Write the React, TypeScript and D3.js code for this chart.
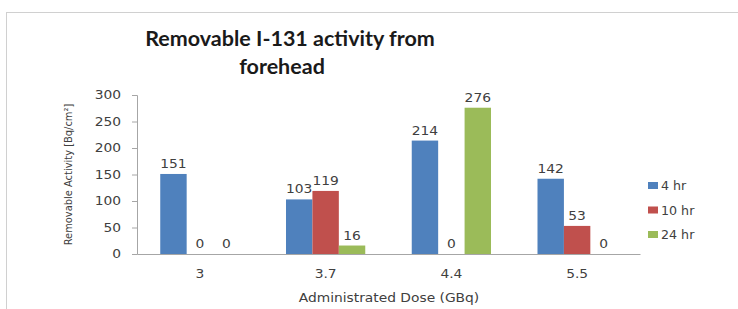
import React, { useEffect, useRef } from 'react'
import * as d3 from 'd3'

const doses = ['3', '3.7', '4.4', '5.5']
const seriesNames = ['4 hr', '10 hr', '24 hr']
const hr4 = [151, 103, 214, 142]
const hr10 = [0, 119, 0, 53]
const hr24 = [0, 16, 276, 0]
const yTicks = [0, 50, 100, 150, 200, 250, 300]
const colors = ['#4F81BD', '#C0504D', '#9BBB59']

// the source picture has its small text stretched sideways
const widen = (sel: any, k: number) => {
  sel.each(function (this: SVGTextElement) {
    const len = this.getComputedTextLength()
    this.setAttribute('textLength', String(len * k))
    this.setAttribute('lengthAdjust', 'spacingAndGlyphs')
  })
}

export default function App() {
  const ref = useRef<SVGSVGElement>(null)

  useEffect(() => {
    const width = 738
    const height = 309
    const margin = { top: 95, right: 98, bottom: 55, left: 137 }

    const svg = d3.select(ref.current)
    svg.selectAll('*').remove()

    // chart frame
    svg.append('rect')
      .attr('x', 6.5).attr('y', 12.5)
      .attr('width', 760).attr('height', 330)
      .attr('fill', '#fff')
      .attr('stroke', '#d0d0d0')

    const title = svg.append('text')
      .attr('text-anchor', 'middle')
      .attr('font-family', 'Lato, sans-serif')
      .attr('font-weight', 'bold')
      .attr('font-size', 21.5)
      .attr('fill', '#1a1a1a')
    title.append('tspan').attr('x', 290).attr('y', 46).text('Removable I-131 activity from')
    title.append('tspan').attr('x', 282).attr('y', 74).text('forehead')

    const x0 = d3.scaleBand()
      .domain(doses)
      .range([margin.left, width - margin.right])
    const x1 = d3.scaleBand()
      .domain(seriesNames)
      .range([0, x0.bandwidth()])
      .paddingInner(0)
      .paddingOuter(0.88)
    const y = d3.scaleLinear()
      .domain([0, 300])
      .range([height - margin.bottom, margin.top])

    const rows = doses.map((d, i) => ({
      dose: d,
      values: [hr4[i], hr10[i], hr24[i]],
    }))

    // y axis
    const yAxis = svg.append('g')
      .attr('transform', `translate(${margin.left},0)`)
      .call(d3.axisLeft(y).tickValues(yTicks).tickSize(5).tickPadding(11))
    yAxis.select('.domain').attr('stroke', '#a6a6a6')
    yAxis.selectAll('.tick line').attr('stroke', '#a6a6a6')
    yAxis.selectAll('.tick text')
      .attr('font-family', 'DejaVu Sans, sans-serif')
      .attr('font-size', 12)
      .attr('fill', '#404040')
      .call(widen, 1.15)

    // x axis
    const xAxis = svg.append('g')
      .attr('transform', `translate(0,${y(0)})`)
      .call(d3.axisBottom(x0).tickSize(0).tickPadding(15))
    xAxis.select('.domain').attr('stroke', '#a6a6a6')
    xAxis.selectAll('.tick text')
      .attr('font-family', 'DejaVu Sans, sans-serif')
      .attr('font-size', 12)
      .attr('fill', '#404040')
      .call(widen, 1.15)

    const groups = svg.append('g')
      .selectAll('g')
      .data(rows)
      .join('g')
      .attr('transform', d => `translate(${x0(d.dose)},0)`)

    groups.selectAll('rect')
      .data(d => d.values.map((v, k) => ({ key: seriesNames[k], v, k })))
      .join('rect')
      .attr('x', d => x1(d.key)!)
      .attr('y', d => y(d.v))
      .attr('width', x1.bandwidth())
      .attr('height', d => y(0) - y(d.v))
      .attr('fill', d => colors[d.k])

    groups.selectAll('text')
      .data(d => d.values.map((v, k) => ({ key: seriesNames[k], v, k })))
      .join('text')
      .attr('x', d => x1(d.key)! + x1.bandwidth() / 2)
      .attr('y', d => y(d.v) - 6)
      .attr('text-anchor', 'middle')
      .attr('font-family', 'DejaVu Sans, sans-serif')
      .attr('font-size', 12)
      .attr('fill', '#404040')
      .text(d => d.v)
      .call(widen, 1.15)

    // axis titles
    svg.append('text')
      .attr('transform', `translate(72,${(y(0) + y(300)) / 2}) rotate(-90)`)
      .attr('text-anchor', 'middle')
      .attr('font-family', 'Liberation Sans Narrow, DejaVu Sans Condensed, sans-serif')
      .attr('font-size', 11)
      .attr('fill', '#404040')
      .text('Removable Activity [Bq/cm²]')

    svg.append('text')
      .attr('x', 389)
      .attr('y', 302)
      .attr('text-anchor', 'middle')
      .attr('font-family', 'DejaVu Sans, sans-serif')
      .attr('font-size', 12)
      .attr('fill', '#404040')
      .text('Administrated Dose (GBq)')
      .call(widen, 1.15)

    // legend
    const legend = svg.append('g')
      .selectAll('g')
      .data(seriesNames)
      .join('g')
      .attr('transform', (d, i) => `translate(648,${186 + i * 24.5})`)
    legend.append('rect')
      .attr('x', 0).attr('y', -4)
      .attr('width', 10).attr('height', 7)
      .attr('fill', (d, i) => colors[i])
    legend.append('text')
      .attr('x', 13)
      .attr('y', 0)
      .attr('dy', '0.35em')
      .attr('font-family', 'DejaVu Sans, sans-serif')
      .attr('font-size', 11.5)
      .attr('fill', '#404040')
      .text(d => d)
      .call(widen, 1.1)
  }, [])

  return (
    <svg
      ref={ref}
      width={738}
      height={309}
      style={{ position: 'absolute', left: 0, top: 0, background: '#fff' }}
    />
  )
}
